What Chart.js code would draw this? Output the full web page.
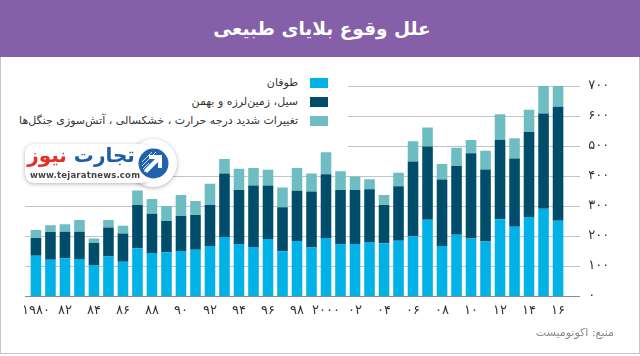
<!DOCTYPE html>
<html lang="fa">
<head>
<meta charset="utf-8">
<script src="https://cdn.jsdelivr.net/npm/chart.js@4.4.1/dist/chart.umd.min.js"></script>
<style>
  html, body { margin:0; padding:0; background:#fff; }
  body { width:640px; height:356px; position:relative; overflow:hidden; font-family:"DejaVu Sans", sans-serif; }
  #header { position:absolute; left:0; top:0; width:640px; height:57px; background:#8560a8; }
  #title { position:absolute; left:0; top:0; width:644px; height:57px; line-height:57px; text-align:center; color:#fff; font-weight:bold; font-size:18.5px; direction:rtl; }
  #frame { position:absolute; left:0; top:57px; width:640px; height:297px; box-sizing:border-box; border:1px solid #c4c4c4; border-top:none; }
  #c { position:absolute; left:0; top:0; }
  #legend { position:absolute; left:2px; top:68px; width:346px; height:82px; background:#fff; }
  .row { position:absolute; left:0; width:346px; height:18px; }
  .row .txt { position:absolute; right:50px; top:0; height:18px; line-height:18px; font-size:11px; color:#333; direction:rtl; white-space:nowrap; }
  .row .sw { position:absolute; left:308px; top:4px; width:18px; height:10px; }
  #logo { position:absolute; left:25px; top:144px; width:125px; height:39px; background:#fff; border-radius:9px; box-shadow:0 1px 4px rgba(0,0,0,0.3); }
  #logocirc { position:absolute; left:129px; top:139px; width:48px; height:48px; border-radius:50%; background:#fff; box-shadow:0 1px 4px rgba(0,0,0,0.3); }
  #logocover { position:absolute; left:120px; top:145px; width:30px; height:37px; background:#fff; }
  #brand { position:absolute; left:27px; top:142px; width:108px; text-align:center; font-weight:bold; font-size:20px; line-height:26px; direction:rtl; white-space:nowrap; }
  #brand .b { color:#1d5ea8; }
  #brand .r { color:#e2302c; }
  #url { position:absolute; left:30px; top:170px; width:104px; text-align:center; font-size:8.5px; font-weight:bold; color:#444; letter-spacing:0.2px; white-space:nowrap; }
  #emblem { position:absolute; left:138px; top:148px; }
  #source { position:absolute; right:26px; top:326px; font-size:11px; color:#8a8a8a; direction:rtl; white-space:nowrap; }
</style>
</head>
<body>
<div id="header"><div id="title">علل وقوع بلایای طبیعی</div></div>
<div id="frame"></div>
<canvas id="c" width="640" height="356"></canvas>
<div id="legend">
  <div class="row" style="top:6px"><span class="txt">طوفان</span><span class="sw" style="background:#00b2e6"></span></div>
  <div class="row" style="top:25px"><span class="txt">سیل، زمین‌لرزه و بهمن</span><span class="sw" style="background:#004c6b"></span></div>
  <div class="row" style="top:44px"><span class="txt">تغییرات شدید درجه حرارت ، خشکسالی ، آتش‌سوزی جنگل‌ها</span><span class="sw" style="background:#6dbdc3"></span></div>
</div>
<div id="logocirc"></div>
<div id="logo"></div>
<div id="logocover"></div>
<div id="brand"><span class="b">تجارت</span> <span class="r">نیوز</span></div>
<div id="url">www.tejaratnews.com</div>
<svg id="emblem" width="31" height="31" viewBox="0 0 31 31">
  <circle cx="15.5" cy="15.5" r="15" fill="#1f63ad"/>
  <g stroke="#fff" stroke-width="1" opacity="0.8">
    <line x1="4" y1="14" x2="14" y2="4"/><line x1="4" y1="18" x2="18" y2="4"/><line x1="5" y1="21" x2="11" y2="15"/>
    <line x1="6" y1="24" x2="11" y2="19"/>
  </g>
  <polygon points="9,25 20,14 20,20 24,20 24,7 11,7 11,11 17,11 6,22" fill="#fff"/>
</svg>
<div id="source">منبع: اکونومیست</div>
<script>
const years = ['1980','1981','1982','1983','1984','1985','1986','1987','1988','1989','1990','1991','1992','1993','1994','1995','1996','1997','1998','1999','2000','2001','2002','2003','2004','2005','2006','2007','2008','2009','2010','2011','2012','2013','2014','2015','2016'];
const xTickLabels = ['۱۹۸۰','','۸۲','','۸۴','','۸۶','','۸۸','','۹۰','','۹۲','','۹۴','','۹۶','','۹۸','','۲۰۰۰','','۰۲','','۰۴','','۰۶','','۰۸','','۱۰','','۱۲','','۱۴','','۱۶'];
const yTickLabels = ['۰','۱۰۰','۲۰۰','۳۰۰','۴۰۰','۵۰۰','۶۰۰','۷۰۰'];
const storms = [134,121,126,123,103,132,114,159,143,146,150,154,167,197,173,163,190,149,183,162,193,172,173,180,176,184,199,254,167,204,192,182,256,231,263,291,251];
const floods = [59,92,88,91,74,96,94,144,131,104,117,116,136,211,180,205,178,147,168,186,213,181,180,176,127,182,249,244,221,229,284,240,265,227,284,317,380];
const heat = [27,23,25,39,15,25,26,49,49,49,70,47,71,49,71,59,53,66,76,60,73,63,45,33,34,45,68,64,52,61,44,62,85,68,74,92,69];
const seriesNames = ['طوفان','سیل، زمین‌لرزه و بهمن','تغییرات شدید درجه حرارت ، خشکسالی ، آتش‌سوزی جنگل‌ها'];

const gridPlugin = {
  id: 'extGrid',
  beforeDatasetsDraw(chart) {
    const ctx = chart.ctx, y = chart.scales.y;
    ctx.save();
    ctx.strokeStyle = '#c3c3c3';
    ctx.lineWidth = 1;
    for (let v = 100; v <= 700; v += 100) {
      const py = Math.round(y.getPixelForValue(v)) + 0.5;
      ctx.beginPath(); ctx.moveTo(25, py); ctx.lineTo(580, py); ctx.stroke();
    }
    ctx.restore();
  },
  afterDatasetsDraw(chart) {
    const ctx = chart.ctx, y = chart.scales.y;
    const py = Math.round(y.getPixelForValue(0)) + 0.5;
    ctx.save();
    ctx.strokeStyle = '#8c8c8c';
    ctx.lineWidth = 1.2;
    ctx.beginPath(); ctx.moveTo(25, py); ctx.lineTo(580, py); ctx.stroke();
    ctx.restore();
  }
};

const font = { family: 'DejaVu Sans', size: 13 };
new Chart(document.getElementById('c'), {
  type: 'bar',
  data: {
    labels: years,
    datasets: [
      { label: seriesNames[0], data: storms, backgroundColor: '#00b2e6' },
      { label: seriesNames[1], data: floods, backgroundColor: '#004c6b' },
      { label: seriesNames[2], data: heat, backgroundColor: '#6dbdc3' }
    ]
  },
  options: {
    responsive: false,
    animation: false,
    devicePixelRatio: 1,
    layout: { padding: { left: 28.7, top: 86, right: 0, bottom: 0 } },
    datasets: { bar: { categoryPercentage: 1, barPercentage: 0.73, borderWidth: 0 } },
    plugins: { legend: { display: false }, tooltip: { enabled: false } },
    scales: {
      x: {
        stacked: true,
        grid: { display: false, drawTicks: false },
        border: { display: false },
        ticks: { autoSkip: false, maxRotation: 0, minRotation: 0, padding: 7, color: '#333', font,
                 callback: (v, i) => xTickLabels[i] },
        afterFit: s => { s.height = 60; }
      },
      y: {
        position: 'right',
        stacked: true,
        min: 0, max: 700,
        grid: { display: false, drawTicks: false },
        border: { display: false },
        ticks: { stepSize: 100, padding: 23, color: '#333', font,
                 callback: v => yTickLabels[Math.round(v / 100)] },
        afterFit: s => { s.width = 74.7; }
      }
    }
  },
  plugins: [gridPlugin]
});
</script>
</body>
</html>
